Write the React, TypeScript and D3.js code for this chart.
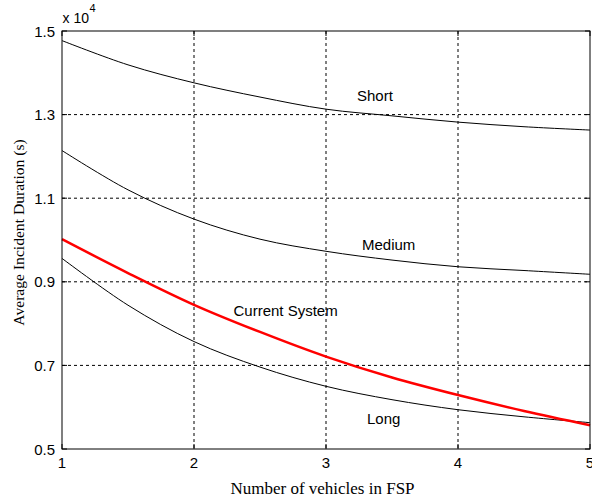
import React from "react";
import * as d3 from "d3";

const xValues = [1, 1.5, 2, 2.5, 3, 3.5, 4, 4.5, 5];
const shortSeries = [14770, 14190, 13760, 13420, 13130, 12970, 12820, 12710, 12630];
const mediumSeries = [12140, 11200, 10500, 10020, 9730, 9520, 9360, 9270, 9180];
const currentSeries = [10020, 9210, 8450, 7800, 7210, 6710, 6290, 5910, 5570];
const longSeries = [9560, 8440, 7570, 6960, 6500, 6180, 5940, 5770, 5630];
const xTicks = [1, 2, 3, 4, 5];
const yTicks = [5000, 7000, 9000, 11000, 13000, 15000];
const yTickLabels = ["0.5", "0.7", "0.9", "1.1", "1.3", "1.5"];

const W = 592;
const H = 499;
const L = 62;
const R = 590;
const T = 31;
const B = 449;

const sans = "'Liberation Sans', Arial, sans-serif";
const serif = "'Liberation Serif', 'Times New Roman', serif";

export default function App() {
  const x = d3.scaleLinear().domain([1, 5]).range([L, R]);
  const y = d3.scaleLinear().domain([5000, 15000]).range([B, T]);
  const line = d3
    .line<number>()
    .x((_, i) => x(xValues[i]))
    .y((d) => y(d))
    .curve(d3.curveCatmullRom.alpha(0.5));

  const tick = 5;
  return (
    <svg
      width={W}
      height={H}
      style={{ position: "absolute", left: 0, top: 0, background: "#fff" }}
    >
      <rect x={0} y={0} width={W} height={H} fill="#fff" />
      {xTicks.slice(1, -1).map((t) => (
        <line
          key={"gx" + t}
          x1={x(t)}
          x2={x(t)}
          y1={T}
          y2={B}
          stroke="#000"
          strokeWidth={1}
          strokeDasharray="3,3"
        />
      ))}
      {yTicks.slice(1, -1).map((t) => (
        <line
          key={"gy" + t}
          x1={L}
          x2={R}
          y1={y(t)}
          y2={y(t)}
          stroke="#000"
          strokeWidth={1}
          strokeDasharray="3,3"
        />
      ))}
      {xTicks.map((t) => (
        <g key={"tx" + t}>
          <line x1={x(t)} x2={x(t)} y1={B} y2={B - tick} stroke="#000" />
          <line x1={x(t)} x2={x(t)} y1={T} y2={T + tick} stroke="#000" />
        </g>
      ))}
      {yTicks.map((t) => (
        <g key={"ty" + t}>
          <line x1={L} x2={L + tick} y1={y(t)} y2={y(t)} stroke="#000" />
          <line x1={R} x2={R - tick} y1={y(t)} y2={y(t)} stroke="#000" />
        </g>
      ))}
      <path d={line(shortSeries) || ""} fill="none" stroke="#000" strokeWidth={1} />
      <path d={line(mediumSeries) || ""} fill="none" stroke="#000" strokeWidth={1} />
      <path d={line(longSeries) || ""} fill="none" stroke="#000" strokeWidth={1} />
      <path d={line(currentSeries) || ""} fill="none" stroke="#ff0000" strokeWidth={2.5} />
      <rect x={L} y={T} width={R - L} height={B - T} fill="none" stroke="#000" strokeWidth={1} />
      {yTicks.map((t, i) => (
        <text
          key={"ly" + t}
          x={L - 7}
          y={y(t) + 5.5}
          textAnchor="end"
          fontFamily={sans}
          fontSize={15}
          fill="#000"
        >
          {yTickLabels[i]}
        </text>
      ))}
      {xTicks.map((t) => (
        <text
          key={"lx" + t}
          x={x(t)}
          y={468}
          textAnchor="middle"
          fontFamily={sans}
          fontSize={15}
          fill="#000"
        >
          {t}
        </text>
      ))}
      <text x={62.5} y={22.5} fontFamily={sans} fontSize={14} fill="#000">
        x 10
        <tspan dx={0.5} dy={-11} fontSize={11}>4</tspan>
      </text>
      <text x={357} y={101} fontFamily={sans} fontSize={15} fill="#000">Short</text>
      <text x={362} y={250} fontFamily={sans} fontSize={15} fill="#000">Medium</text>
      <text x={233.5} y={316} fontFamily={sans} fontSize={15} fill="#000">Current System</text>
      <text x={367} y={424} fontFamily={sans} fontSize={15} fill="#000">Long</text>
      <text
        x={322.5}
        y={494}
        textAnchor="middle"
        fontFamily={serif}
        fontSize={17}
        fill="#000"
      >
        Number of vehicles in FSP
      </text>
      <text
        transform="translate(24,232.5) rotate(-90)"
        textAnchor="middle"
        fontFamily={serif}
        fontSize={15.6}
        fill="#000"
      >
        Average Incident Duration (s)
      </text>
    </svg>
  );
}
